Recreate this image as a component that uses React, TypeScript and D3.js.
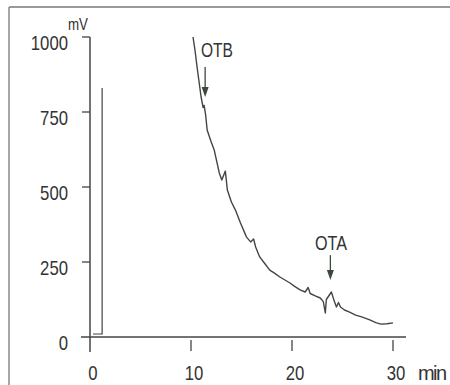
import React from "react";
import * as d3 from "d3";

// Chromatogram trace (time in min, signal in mV)
const traceTime = [10.2, 10.4, 10.6, 10.8, 11.0, 11.2, 11.3, 11.45, 11.6, 12.0, 12.3, 12.8, 13.05, 13.4, 13.6, 14.0, 14.4, 14.9, 15.5, 15.9, 16.2, 16.4, 16.8, 17.3, 17.8, 18.3, 18.8, 19.3, 19.8, 20.3, 20.8, 21.3, 21.6, 21.8, 22.3, 22.8, 23.1, 23.3, 23.4, 23.9, 24.2, 24.4, 24.6, 24.8, 25.2, 25.7, 26.3, 26.9, 27.3, 27.7, 28.3, 28.8, 29.4, 30.0];
const traceSignal = [1000, 955, 900, 850, 800, 765, 772, 740, 690, 650, 623, 547, 523, 553, 490, 450, 423, 380, 333, 317, 327, 300, 267, 245, 223, 212, 200, 190, 180, 168, 157, 150, 165, 145, 137, 130, 118, 80, 125, 150, 118, 100, 115, 100, 90, 83, 73, 67, 62, 57, 48, 43, 44, 47];

// Injection marker trace
const injTime = [0.3, 1.2, 1.2];
const injSignal = [10, 10, 830];

const yTicks = [0, 250, 500, 750, 1000];
const xTicks = [0, 10, 20, 30];

const peakNames = ["OTB", "OTA"];
const peakTimes = [11.4, 23.8];
const peakArrowTop = [900, 273];
const peakArrowTip = [800, 190];

const CH = 9.3; // narrow glyph advance

export default function App() {
  const x = d3.scaleLinear().domain([0, 30]).range([90, 393]);
  const y = d3.scaleLinear().domain([0, 1000]).range([337, 37]);
  const line = d3
    .line<[number, number]>()
    .x((d) => x(d[0]))
    .y((d) => y(d[1]));
  const trace: [number, number][] = traceTime.map((t, i) => [t, traceSignal[i]]);
  const inj: [number, number][] = injTime.map((t, i) => [t, injSignal[i]]);
  const font = "'Liberation Sans', Arial, sans-serif";
  const txt = "#333";
  const ax = "#444";
  const adj = "spacingAndGlyphs";
  return (
    <svg
      width={450}
      height={385}
      style={{ position: "absolute", left: 0, top: 0, background: "#fff" }}
      fontFamily={font}
    >
      {/* frame */}
      <line x1={9} y1={7} x2={450} y2={7} stroke="#777" strokeWidth={1.5} />
      <line x1={9} y1={7} x2={9} y2={385} stroke="#888" strokeWidth={1.5} />

      {/* axes */}
      <line x1={x(0)} y1={y(1000)} x2={x(0)} y2={352} stroke={ax} strokeWidth={1.5} />
      <line x1={81} y1={y(0)} x2={406} y2={y(0)} stroke={ax} strokeWidth={1.5} />
      {yTicks.filter((v) => v > 0).map((v) => (
        <line key={v} x1={82} x2={x(0)} y1={y(v)} y2={y(v)} stroke={ax} strokeWidth={1.3} />
      ))}
      {xTicks.filter((v) => v > 0).map((v) => (
        <line key={v} x1={x(v)} x2={x(v)} y1={y(0) + 3} y2={351} stroke={ax} strokeWidth={1.3} />
      ))}
      {yTicks.map((v) => (
        <text
          key={v}
          x={68 - String(v).length * CH}
          y={y(v) + 12.5}
          fontSize={21}
          fill={txt}
          textLength={String(v).length * CH}
          lengthAdjust={adj}
        >
          {v}
        </text>
      ))}
      {xTicks.map((v) => (
        <text
          key={v}
          x={x(v) + 3 - (String(v).length * CH) / 2}
          y={380}
          fontSize={21}
          fill={txt}
          textLength={String(v).length * CH}
          lengthAdjust={adj}
        >
          {v}
        </text>
      ))}
      <text x={418} y={380} fontSize={20} fill={txt} textLength={29} lengthAdjust="spacing">
        min
      </text>
      <text x={68} y={30} fontSize={17} fill={txt} textLength={20} lengthAdjust={adj}>
        mV
      </text>

      {/* traces */}
      <path d={line(inj) || ""} fill="none" stroke={ax} strokeWidth={1.2} />
      <path d={line(trace) || ""} fill="none" stroke={ax} strokeWidth={1.4} strokeLinejoin="round" />

      {/* peak annotations */}
      {peakNames.map((n, i) => {
        const px = x(peakTimes[i]);
        const top = y(peakArrowTop[i]);
        const tip = y(peakArrowTip[i]);
        return (
          <g key={n}>
            <line x1={px} x2={px} y1={top} y2={tip - 8} stroke="#3a4a3a" strokeWidth={1.3} />
            <path d={`M${px - 3.5},${tip - 10} L${px + 3.5},${tip - 10} L${px},${tip} Z`} fill="#3a4a3a" />
          </g>
        );
      })}
      <text x={201} y={57} fontSize={20} fill={txt} textLength={32} lengthAdjust={adj}>
        OTB
      </text>
      <text x={315} y={250} fontSize={20} fill={txt} textLength={32} lengthAdjust={adj}>
        OTA
      </text>
    </svg>
  );
}
